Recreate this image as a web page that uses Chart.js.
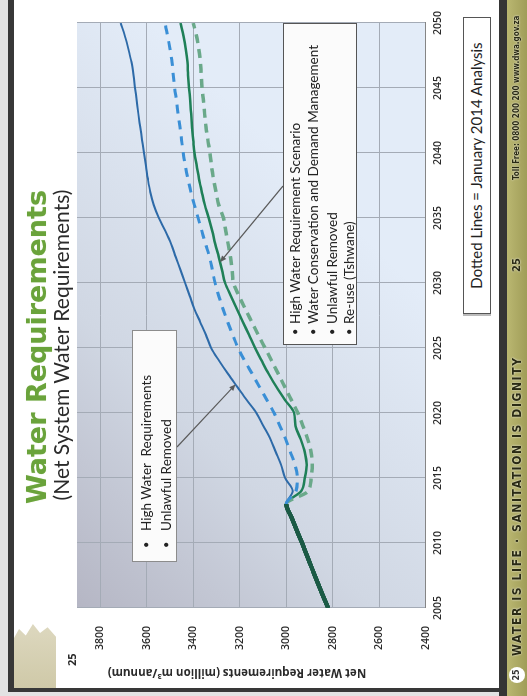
<!DOCTYPE html>
<html>
<head>
<meta charset="utf-8">
<script src="https://cdn.jsdelivr.net/npm/chart.js@4/dist/chart.umd.min.js"></script>
<style>
  html, body { margin: 0; padding: 0; background: #fff; overflow: hidden; width: 527px; height: 696px; }
  /* The slide is laid out landscape and turned a quarter turn anticlockwise */
  #slide { position: absolute; left: 0; top: 0; width: 696px; height: 527px;
           transform-origin: 0 0; transform: translate(0, 696px) rotate(-90deg);
           background: #fff; overflow: hidden; font-family: Lato, 'Open Sans', sans-serif; color: #222; }
  .abs { position: absolute; }
  .box { position: absolute; box-sizing: border-box; background: #fbfbfb; }
  .row { position: absolute; white-space: nowrap; font-size: 13.5px; line-height: 16px; }
  .bul { position: absolute; font-size: 11px; line-height: 16px; }
  .foot { position: absolute; top: 507px; white-space: nowrap; color: #2a2a14; text-shadow: 0 0 2px #fff;
          font-family: 'DejaVu Sans Condensed', 'DejaVu Sans', sans-serif; font-weight: bold; line-height: 20px; }
</style>
</head>
<body>
<div id="slide">
  <!-- frame -->
  <div class="abs" style="left:0;top:0;width:696px;height:8px;background:#e3e3e3"></div>
  <div class="abs" style="left:0;top:8px;width:696px;height:6px;background:#383838"></div>
  <div class="abs" style="left:0;top:0;width:4px;height:527px;background:#e3e3e3"></div>
  <div class="abs" style="left:4px;top:8px;width:4px;height:495px;background:#383838"></div>
  <div class="abs" style="left:0;top:499px;width:696px;height:8px;background:#353535"></div>
  <div class="abs" style="left:0;top:507px;width:696px;height:20px;background:linear-gradient(#bab771,#a09d58)"></div>

  <!-- small landscape picture in the corner -->
  <div class="abs" style="left:8px;top:14px;width:64px;height:42px;background:linear-gradient(90deg,#cfc9a8,#ddd8bf);
       clip-path:polygon(0 0,78% 0,92% 12%,82% 28%,100% 45%,86% 62%,95% 80%,80% 100%,0 100%)"></div>

  <!-- chart -->
  <div class="abs" style="left:0;top:0;width:696px;height:450px"><canvas id="c" width="696" height="450"></canvas></div>

  <!-- titles -->
  <div class="abs" style="left:0;top:23px;width:698px;text-align:center;font:bold 27px/27px 'DejaVu Sans',sans-serif;color:#6aa33b;text-shadow:0 0 1px #cfe3b8">Water Requirements</div>
  <div class="abs" style="left:0;top:49px;width:702px;text-align:center;font:21px/24px Lato,sans-serif;color:#2b2b2b">(Net System Water Requirements)</div>

  <!-- value axis title and corner number -->
  <div class="abs" style="left:-107px;top:229px;width:260px;height:16px;line-height:16px;text-align:center;transform:rotate(-90deg);
       font:bold 11.5px/16px 'Open Sans',sans-serif;color:#2a2a2a">Net Water Requirements (million m³/annum)</div>
  <div class="abs" style="left:30px;top:65px;font:bold 11px/14px 'Open Sans',sans-serif;color:#2a2a2a">25</div>

  <!-- callout boxes -->
  <div class="box" style="left:134px;top:132px;width:232px;height:45px;border:1px solid #8c8c8c">
    <div class="bul" style="left:13px;top:5px">•</div><div class="row" style="left:30px;top:5px">High Water&nbsp; Requirements</div>
    <div class="bul" style="left:13px;top:25px">•</div><div class="row" style="left:30px;top:25px">Unlawful Removed</div>
  </div>
  <div class="box" style="left:351px;top:283px;width:322px;height:74px;border:1px solid #555">
    <div class="bul" style="left:9px;top:3px">•</div><div class="row" style="left:20px;top:3px">High Water Requirement Scenario</div>
    <div class="bul" style="left:9px;top:21px">•</div><div class="row" style="left:20px;top:21px">Water Conservation and Demand Management</div>
    <div class="bul" style="left:9px;top:40px">•</div><div class="row" style="left:20px;top:40px">Unlawful Removed</div>
    <div class="bul" style="left:9px;top:57px">•</div><div class="row" style="left:20px;top:57px">Re-use (Tshwane)</div>
  </div>
  <div class="box" style="left:382px;top:463px;width:297px;height:28px;border:1.5px solid #555;background:#fff;
       box-shadow:-2px 0 0 #bbb;text-align:center;font:15px/25px Lato,sans-serif">Dotted Lines = January 2014 Analysis</div>

  <!-- footer -->
  <div class="abs" style="left:13px;top:509px;width:16px;height:16px;border-radius:50%;background:#fff;text-align:center;font:bold 8px/16px 'DejaVu Sans',sans-serif;color:#333">25</div>
  <div class="foot" style="left:40px;font-size:12px;letter-spacing:1.6px">WATER IS LIFE · SANITATION IS DIGNITY</div>
  <div class="foot" style="left:424px;font-size:11px">25</div>
  <div class="foot" style="left:516px;font-size:8px">Toll Free: 0800 200 200</div>
  <div class="foot" style="left:613px;font-size:8px">www.dwa.gov.za</div>
</div>

<script>
// Planning years
const years = [2005, 2006, 2007, 2008, 2009, 2010, 2011, 2012, 2013, 2014,
               2015, 2016, 2017, 2018, 2019, 2020, 2021, 2022, 2023, 2024,
               2025, 2026, 2027, 2028, 2029, 2030, 2031, 2032, 2033, 2034,
               2035, 2036, 2037, 2038, 2039, 2040, 2041, 2042, 2043, 2044,
               2045, 2046, 2047, 2048, 2049, 2050];

// High water requirements, unlawful use removed (million m³/annum)
const highWater = [2820, 2843, 2866, 2888, 2910, 2932, 2955, 2978, 3000, 2972,
                   3005, 3022, 3045, 3068, 3098, 3128, 3170, 3210, 3250, 3288,
                   3323, 3345, 3370, 3395, 3415, 3435, 3455, 3475, 3495, 3520,
                   3548, 3570, 3585, 3595, 3603, 3612, 3620, 3628, 3636, 3643,
                   3650, 3657, 3666, 3679, 3694, 3712];

// Same scenario, January 2014 analysis
const highWater2014 = [2820, 2843, 2866, 2888, 2910, 2932, 2955, 2978, 3000, 2958,
                       2952, 2962, 2982, 3003, 3027, 3052, 3083, 3115, 3146, 3178,
                       3207, 3230, 3252, 3272, 3290, 3306, 3318, 3330, 3347, 3363,
                       3379, 3395, 3410, 3423, 3434, 3443, 3450, 3457, 3465, 3472,
                       3480, 3486, 3491, 3500, 3510, 3522];

// High water requirements with WC/DM, unlawful use removed and re-use (Tshwane)
const wcdm = [2820, 2843, 2866, 2888, 2910, 2932, 2955, 2978, 3000, 2935,
              2920, 2912, 2920, 2938, 2960, 2966, 3005, 3042, 3075, 3105,
              3134, 3160, 3186, 3212, 3238, 3263, 3276, 3290, 3305, 3318,
              3333, 3350, 3363, 3375, 3385, 3395, 3400, 3405, 3409, 3413,
              3418, 3422, 3425, 3432, 3442, 3455];

// Same scenario, January 2014 analysis
const wcdm2014 = [2820, 2843, 2866, 2888, 2910, 2932, 2955, 2978, 3000, 2905,
                  2893, 2888, 2893, 2908, 2928, 2950, 2978, 3006, 3034, 3062,
                  3091, 3120, 3148, 3176, 3203, 3227, 3233, 3240, 3250, 3260,
                  3270, 3290, 3302, 3313, 3322, 3328, 3337, 3345, 3351, 3356,
                  3362, 3366, 3369, 3376, 3386, 3400];

// Value axis tick labels
const valueTicks = [2400, 2600, 2800, 3000, 3200, 3400, 3600, 3800];

// Last year of recorded (shared) history
const historyEnd = 2013;

const pts = arr => years.map((y, i) => ({ x: y, y: arr[i] }));
const inHistory = c => c.p1.parsed.x <= historyEnd;
// Shared history is drawn as one heavy dark-green trace for every series
const historySegment = {
  borderColor: c => inHistory(c) ? '#1b5a45' : undefined,
  borderWidth: c => inHistory(c) ? 4 : undefined,
  borderDash: c => inHistory(c) ? [] : undefined
};

// Shaded plot background
const plotBackground = {
  id: 'plotBackground',
  beforeDraw(chart) {
    const { ctx, chartArea: a } = chart;
    const g = ctx.createLinearGradient(a.left, a.top, a.left + 330, a.top + 330);
    g.addColorStop(0, '#b5b6c4');
    g.addColorStop(0.45, '#d0d7e3');
    g.addColorStop(1, '#e3ecf8');
    ctx.save();
    ctx.fillStyle = g;
    ctx.fillRect(a.left, a.top, a.right - a.left, a.bottom - a.top);
    ctx.restore();
  }
};

// Leader lines from the callout boxes to the curves they describe
function valueAt(arr, year) {
  const i = Math.floor(year) - years[0];
  const f = year - Math.floor(year);
  return f === 0 ? arr[i] : arr[i] + (arr[i + 1] - arr[i]) * f;
}
const callouts = {
  id: 'callouts',
  afterDatasetsDraw(chart) {
    const { ctx, scales: { x, y } } = chart;
    const leaders = [
      { from: [249, 177], year: 2022.2, series: highWater },
      { from: [510, 283], year: 2031.6, series: wcdm }
    ];
    ctx.save();
    ctx.setLineDash([]);
    ctx.strokeStyle = '#5a5a5a';
    ctx.fillStyle = '#5a5a5a';
    ctx.lineWidth = 1.2;
    leaders.forEach(l => {
      const tx = x.getPixelForValue(l.year);
      const ty = y.getPixelForValue(valueAt(l.series, l.year));
      const [fx, fy] = l.from;
      const ang = Math.atan2(ty - fy, tx - fx);
      ctx.beginPath();
      ctx.moveTo(fx, fy);
      ctx.lineTo(tx - 5 * Math.cos(ang), ty - 5 * Math.sin(ang));
      ctx.stroke();
      ctx.beginPath();
      ctx.moveTo(tx, ty);
      ctx.lineTo(tx - 7 * Math.cos(ang - 0.4), ty - 7 * Math.sin(ang - 0.4));
      ctx.lineTo(tx - 7 * Math.cos(ang + 0.4), ty - 7 * Math.sin(ang + 0.4));
      ctx.closePath();
      ctx.fill();
    });
    ctx.restore();
  }
};

const tickFont = { family: "'Open Sans', sans-serif", size: 10.5, weight: '600' };

new Chart(document.getElementById('c'), {
  type: 'line',
  data: {
    datasets: [
      { label: 'High Water Requirements (Jan 2014)', data: pts(highWater2014),
        borderColor: '#3a8fd6', borderWidth: 3, borderDash: [9, 7], segment: historySegment },
      { label: 'WC/DM, Unlawful Removed, Re-use (Jan 2014)', data: pts(wcdm2014),
        borderColor: '#6aa98a', borderWidth: 3.5, borderDash: [9, 6], segment: historySegment },
      { label: 'High Water Requirements, Unlawful Removed', data: pts(highWater),
        borderColor: '#2d6aa8', borderWidth: 2, segment: historySegment },
      { label: 'WC/DM, Unlawful Removed, Re-use (Tshwane)', data: pts(wcdm),
        borderColor: '#1f8058', borderWidth: 2.5, segment: historySegment }
    ]
  },
  options: {
    responsive: false,
    animation: false,
    layout: { padding: { left: 0, right: 23, top: 77, bottom: 0 } },
    plugins: { legend: { display: false }, tooltip: { enabled: false } },
    elements: { point: { radius: 0 }, line: { cubicInterpolationMode: 'monotone', borderCapStyle: 'butt' } },
    scales: {
      x: {
        type: 'linear', min: years[0], max: years[years.length - 1],
        ticks: { stepSize: 5, padding: 6, maxRotation: 0, color: '#2a2a2a', font: tickFont,
                 callback: v => String(v) },
        grid: { color: '#a4abb6', lineWidth: 1, drawTicks: false },
        border: { color: '#858585' },
        afterFit: s => { s.height = 22; }
      },
      y: {
        min: valueTicks[0], max: 3900,
        afterBuildTicks: s => { s.ticks = valueTicks.map(v => ({ value: v })); },
        ticks: { padding: 18, color: '#2a2a2a', font: tickFont, callback: v => String(v) },
        grid: { color: '#a4abb6', lineWidth: 1, drawTicks: false },
        border: { display: false },
        afterFit: s => { s.width = 88; }
      }
    }
  },
  plugins: [plotBackground, callouts]
});
</script>
</body>
</html>
